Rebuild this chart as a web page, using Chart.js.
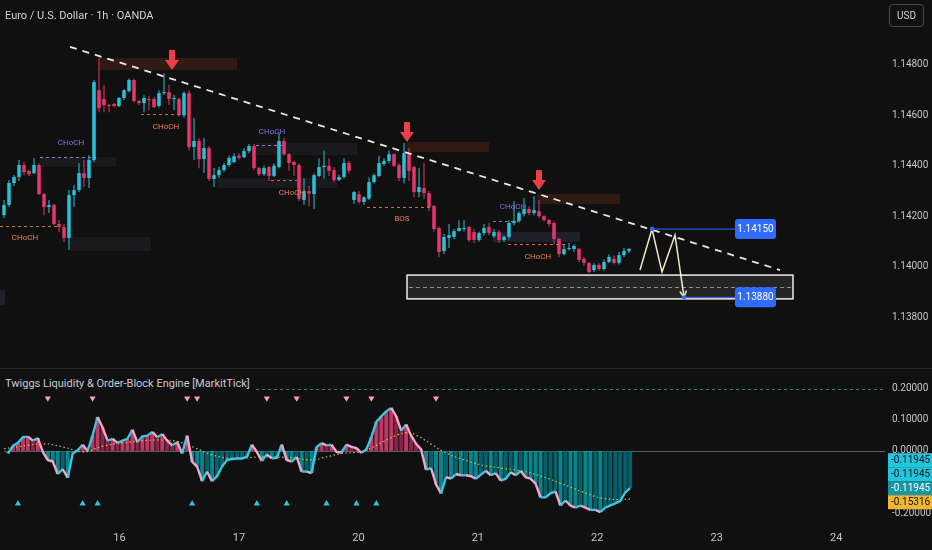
<!DOCTYPE html>
<html>
<head>
<meta charset="utf-8">
<title>EUR/USD 1h</title>
<script src="https://cdn.jsdelivr.net/npm/chart.js@4.4.1/dist/chart.umd.min.js"></script>
<style>
  html, body { margin: 0; padding: 0; background: #101010; }
  #wrap { position: relative; width: 932px; height: 550px; overflow: hidden; background: #101010; font-family: Roboto, "Noto Sans", sans-serif; }
  .pane { position: absolute; left: 0; width: 932px; }
  #pMain { top: 0; height: 368px; }
  #pInd { top: 369px; height: 181px; }
  #sep { position: absolute; left: 0; top: 368px; width: 932px; height: 1px; background: #262626; }
  #title { position: absolute; left: 5px; top: 9px; font-size: 11px; color: #d1d4dc; white-space: nowrap; }
  #usd { position: absolute; left: 889px; top: 4px; width: 33px; height: 21px; border: 1px solid #4a4a4a; border-radius: 4px; color: #d1d4dc; font-size: 10px; line-height: 21px; text-align: center; }
  #indTitle { position: absolute; left: 4px; top: 377px; font-size: 11px; color: #c9ccd4; background: #101010; padding: 0 3px 0 1px; white-space: nowrap; }
</style>
</head>
<body>
<div id="wrap">
  <div class="pane" id="pMain"><canvas id="mainChart"></canvas></div>
  <div id="sep"></div>
  <div class="pane" id="pInd"><canvas id="oscChart"></canvas></div>
  <div id="title">Euro / U.S. Dollar · 1h · OANDA</div>
  <div id="usd">USD</div>
  <div id="indTitle">Twiggs Liquidity &amp; Order-Block Engine [MarkitTick]</div>
</div>
<script>
// hourly candles (index 0 = first visible bar)
const open = [1.14205,1.14245,1.14332,1.14356,1.14403,1.14380,1.14371,1.14403,1.14288,1.14237,
  1.14245,1.14170,1.14158,1.14115,1.14284,1.14304,1.14371,1.14352,1.14423,1.14699,
  1.14664,1.14640,1.14644,1.14636,1.14668,1.14695,1.14739,1.14656,1.14648,1.14664,
  1.14664,1.14636,1.14687,1.14691,1.14664,1.14664,1.14600,1.14687,1.14474,1.14498,
  1.14427,1.14470,1.14348,1.14363,1.14383,1.14403,1.14415,1.14440,1.14434,1.14458,
  1.14478,1.14391,1.14367,1.14395,1.14360,1.14395,1.14498,1.14446,1.14415,1.14403,
  1.14265,1.14300,1.14288,1.14360,1.14395,1.14400,1.14383,1.14344,1.14356,1.14411,
  1.14265,1.14288,1.14257,1.14270,1.14336,1.14360,1.14407,1.14419,1.14446,1.14403,
  1.14352,1.14446,1.14395,1.14296,1.14312,1.14292,1.14241,1.14154,1.14063,1.14115,
  1.14119,1.14142,1.14150,1.14158,1.14138,1.14107,1.14134,1.14158,1.14122,1.14138,
  1.14107,1.14119,1.14174,1.14182,1.14209,1.14229,1.14213,1.14221,1.14201,1.14186,
  1.14174,1.14111,1.14051,1.14071,1.14071,1.14071,1.14032,1.14016,1.13988,1.14008,
  1.13992,1.14020,1.14032,1.14016,1.14047,1.14063];
const high = [1.14265,1.14344,1.14363,1.14423,1.14415,1.14385,1.14431,1.14410,1.14292,1.14265,
  1.14250,1.14186,1.14170,1.14304,1.14324,1.14411,1.14423,1.14442,1.14739,1.14826,
  1.14719,1.14644,1.14648,1.14672,1.14703,1.14745,1.14745,1.14660,1.14679,1.14675,
  1.14672,1.14699,1.14766,1.14719,1.14680,1.14670,1.14695,1.14699,1.14590,1.14510,
  1.14510,1.14478,1.14391,1.14395,1.14411,1.14440,1.14450,1.14450,1.14470,1.14486,
  1.14486,1.14395,1.14400,1.14400,1.14410,1.14533,1.14510,1.14450,1.14420,1.14410,
  1.14350,1.14320,1.14370,1.14430,1.14460,1.14430,1.14395,1.14365,1.14430,1.14420,
  1.14300,1.14300,1.14280,1.14355,1.14370,1.14440,1.14430,1.14460,1.14450,1.14410,
  1.14490,1.14470,1.14400,1.14390,1.14411,1.14300,1.14245,1.14160,1.14130,1.14170,
  1.14150,1.14185,1.14185,1.14162,1.14150,1.14140,1.14170,1.14175,1.14150,1.14146,
  1.14125,1.14185,1.14260,1.14220,1.14273,1.14240,1.14280,1.14265,1.14205,1.14190,
  1.14180,1.14115,1.14090,1.14095,1.14090,1.14075,1.14040,1.14020,1.14015,1.14015,
  1.14030,1.14050,1.14045,1.14060,1.14075,1.14075];
const low = [1.14194,1.14237,1.14320,1.14340,1.14363,1.14360,1.14367,1.14285,1.14205,1.14213,
  1.14165,1.14138,1.14099,1.14067,1.14237,1.14296,1.14316,1.14312,1.14415,1.14612,
  1.14612,1.14612,1.14630,1.14632,1.14660,1.14690,1.14650,1.14640,1.14612,1.14620,
  1.14628,1.14630,1.14680,1.14640,1.14620,1.14595,1.14590,1.14460,1.14423,1.14390,
  1.14372,1.14340,1.14316,1.14352,1.14375,1.14395,1.14410,1.14425,1.14430,1.14450,
  1.14383,1.14360,1.14360,1.14340,1.14355,1.14390,1.14440,1.14380,1.14360,1.14260,
  1.14245,1.14240,1.14230,1.14355,1.14350,1.14360,1.14335,1.14340,1.14350,1.14370,
  1.14250,1.14250,1.14245,1.14265,1.14330,1.14355,1.14400,1.14410,1.14395,1.14340,
  1.14330,1.14340,1.14276,1.14276,1.14270,1.14220,1.14140,1.14040,1.14050,1.14075,
  1.14110,1.14140,1.14140,1.14099,1.14095,1.14100,1.14125,1.14125,1.14115,1.14095,
  1.14100,1.14110,1.14165,1.14175,1.14200,1.14205,1.14205,1.14195,1.14180,1.14160,
  1.14090,1.14040,1.14045,1.14065,1.14060,1.14020,1.14005,1.13975,1.13980,1.13985,
  1.13985,1.14015,1.14010,1.14010,1.14040,1.14055];
const close = [1.14245,1.14332,1.14356,1.14403,1.14375,1.14367,1.14403,1.14288,1.14237,1.14245,
  1.14170,1.14158,1.14115,1.14284,1.14304,1.14371,1.14352,1.14423,1.14731,1.14628,
  1.14640,1.14636,1.14636,1.14668,1.14699,1.14739,1.14656,1.14648,1.14668,1.14660,
  1.14632,1.14687,1.14691,1.14664,1.14668,1.14600,1.14687,1.14474,1.14498,1.14427,
  1.14470,1.14348,1.14363,1.14383,1.14403,1.14431,1.14438,1.14432,1.14458,1.14478,
  1.14391,1.14367,1.14391,1.14360,1.14400,1.14498,1.14446,1.14411,1.14403,1.14269,
  1.14300,1.14290,1.14363,1.14395,1.14400,1.14380,1.14344,1.14356,1.14411,1.14380,
  1.14296,1.14257,1.14275,1.14336,1.14363,1.14411,1.14419,1.14446,1.14400,1.14352,
  1.14450,1.14380,1.14296,1.14316,1.14292,1.14237,1.14150,1.14059,1.14119,1.14126,
  1.14142,1.14154,1.14154,1.14107,1.14107,1.14134,1.14154,1.14134,1.14138,1.14107,
  1.14119,1.14174,1.14182,1.14213,1.14229,1.14213,1.14225,1.14201,1.14186,1.14170,
  1.14111,1.14051,1.14071,1.14075,1.14083,1.14028,1.14016,1.13980,1.14008,1.13992,
  1.14020,1.14040,1.14016,1.14047,1.14063,1.14071];

// oscillator (one value per candle) and its dotted signal line (sampled)
const osc = [-0.008,0.016,0.026,0.044,0.046,0.033,0.041,-0.003,-0.029,-0.034,
  -0.074,-0.058,-0.086,-0.008,0.002,0.020,0.000,0.049,0.109,0.075,
  0.033,0.039,0.026,0.033,0.039,0.068,0.028,0.047,0.049,0.061,
  0.044,0.054,0.033,0.018,0.028,-0.008,0.049,-0.034,-0.050,-0.097,
  -0.066,-0.097,-0.081,-0.050,-0.029,-0.026,-0.024,-0.024,-0.019,0.020,
  -0.003,-0.032,-0.011,-0.024,-0.022,0.020,-0.029,-0.034,-0.019,-0.066,
  -0.066,-0.071,0.012,0.025,0.018,0.020,-0.003,-0.005,0.020,0.013,
  0.009,-0.006,0.005,0.044,0.093,0.111,0.127,0.138,0.111,0.065,
  0.085,0.049,0.023,0.005,-0.060,-0.055,-0.107,-0.136,-0.084,-0.089,
  -0.074,-0.078,-0.078,-0.081,-0.089,-0.076,-0.064,-0.078,-0.071,-0.095,
  -0.089,-0.068,-0.078,-0.064,-0.084,-0.089,-0.105,-0.149,-0.149,-0.136,
  -0.130,-0.175,-0.159,-0.175,-0.182,-0.175,-0.182,-0.189,-0.189,-0.196,
  -0.182,-0.175,-0.168,-0.161,-0.133,-0.119];
const sigX = [-0.8,3.2,7.2,11.2,15.2,19.2,23.2,27.2,31.2,34.2,37.2,41.2,45.2,51.2,57.2,61.2,63.2,67.2,
  71.2,75.2,78.2,80.2,82.2,85.2,88.2,91.2,95.2,99.2,103.2,107.2,111.2,115.2,119.2,123.2,125.2];
const sigY = [0.007,0.016,0.023,0.0125,-0.003,0.016,0.026,0.033,0.035,0.030,0.0125,-0.0135,-0.024,-0.019,-0.022,-0.029,-0.022,-0.008,
  -0.001,0.028,0.051,0.059,0.049,0.020,-0.008,-0.026,-0.045,-0.055,-0.064,-0.081,-0.105,-0.130,-0.151,-0.156,-0.153];
const bearMarks = [8, 17, 36, 38, 52, 58, 68, 73, 86];
const bullMarks = [2, 15, 18, 37, 50, 56, 64, 70, 74];
const markRow = 0.169;
const lastTags = [-0.11945, -0.11945, -0.11945, -0.15316];

// axes
const dayLabels = ['16', '17', '20', '21', '22', '23', '24'];
const dayAt = [22.4, 46.4, 70.4, 94.4, 118.4, 142.4, 166.4];
const priceTicks = [1.138, 1.140, 1.142, 1.144, 1.146, 1.148];
const oscTicks = [0.2, 0.1, 0, -0.2];

// drawings on the price pane (bar index / price)
const trendX = [13.2, 155.2];
const trendY = [1.14870, 1.13988];
const pathX = [127.2, 129.6, 131.6, 134.2, 136.0];
const pathY = [1.13988, 1.14150, 1.13980, 1.14126, 1.13881];
const targetTags = [{ from: 129.6, price: 1.14150 }, { from: 136.0, price: 1.13880 }];
const tagAt = 146.2;
const arrows = [[33.6, 1.14779], [80.6, 1.14494], [107, 1.14304]];
const targetBox = { from: 80.6, to: 157.8, top: 1.13968, bottom: 1.13874, mid: 1.13921 };
const zones = [
  { from: 19.2, to: 46.6, top: 1.14826, bottom: 1.14779, kind: 'supply' },
  { from: 80.6, to: 97.0, top: 1.14494, bottom: 1.14455, kind: 'supply' },
  { from: 106.6, to: 123.2, top: 1.14289, bottom: 1.14249, kind: 'supply' },
  { from: 7.2, to: 22.4, top: 1.14435, bottom: 1.14395, kind: 'block' },
  { from: 13.2, to: 29.4, top: 1.14119, bottom: 1.14063, kind: 'block' },
  { from: 50.2, to: 70.6, top: 1.14490, bottom: 1.14442, kind: 'block' },
  { from: 42.6, to: 66.6, top: 1.14352, bottom: 1.14312, kind: 'block' },
  { from: 97.8, to: 115.2, top: 1.14138, bottom: 1.14099, kind: 'demand' },
  { from: -0.8, to: 0.2, top: 1.13909, bottom: 1.13850, kind: 'demand' }
];
const levels = [
  { from: -0.8, to: 10.6, price: 1.14162, text: 'CHoCH', at: 4.2, textPrice: 1.14115, kind: 'bear' },
  { from: 7.2, to: 18.4, price: 1.14435, text: 'CHoCH', at: 13.4, textPrice: 1.14490, kind: 'bull' },
  { from: 27.4, to: 35.6, price: 1.14605, text: 'CHoCH', at: 32.4, textPrice: 1.14553, kind: 'bear' },
  { from: 50.4, to: 55.6, price: 1.14482, text: 'CHoCH', at: 53.6, textPrice: 1.14533, kind: 'bull' },
  { from: 53.4, to: 58.6, price: 1.14344, text: 'CHoCH', at: 57.6, textPrice: 1.14292, kind: 'bear' },
  { from: 72.6, to: 85.6, price: 1.14237, text: 'BOS', at: 79.6, textPrice: 1.14190, kind: 'bear' },
  { from: 97.8, to: 102.8, price: 1.14182, text: 'CHoCH', at: 101.8, textPrice: 1.14237, kind: 'bull' },
  { from: 100.8, to: 112.8, price: 1.14091, text: 'CHoCH', at: 106.8, textPrice: 1.14040, kind: 'bear' }
];

const X_MIN = -0.8, X_MAX = 176.2;
const UP = '#28c2d8', DOWN = '#e8356c';
const TXT = '#c3c6ce';
const zoneFill = { supply: 'rgba(105,42,28,0.38)', block: 'rgba(70,72,90,0.2)', demand: 'rgba(70,82,125,0.25)' };
const levelColor = { bear: 'rgba(230,115,70,0.9)', bull: 'rgba(150,140,225,0.85)' };
const labelColor = { bear: '#e8804f', bull: '#7f72ee' };

Chart.defaults.font.family = 'Roboto, "Noto Sans", sans-serif';

const idx = close.map((_, i) => i);
const candleColor = idx.map(i => close[i] >= open[i] ? UP : DOWN);

function fixedAxis(size, horizontal) {
  return function (scale) {
    if (horizontal) scale.height = size; else scale.width = size;
    scale.paddingTop = 0; scale.paddingBottom = 0;
    scale.paddingLeft = 0; scale.paddingRight = 0;
  };
}

function tagBox(ctx, x, cy, w, h, fill, color, text) {
  ctx.fillStyle = fill;
  ctx.beginPath();
  ctx.roundRect(x, cy - h / 2, w, h, 3);
  ctx.fill();
  ctx.fillStyle = color;
  ctx.fillText(text, x + w / 2, cy + 0.5);
}

// zones, structure levels, arrows and price tags
const smcLayer = {
  id: 'smcLayer',
  beforeDatasetsDraw(chart) {
    const { ctx, scales: { x, y } } = chart;
    ctx.save();
    zones.forEach(z => {
      const x0 = x.getPixelForValue(z.from), x1 = x.getPixelForValue(z.to);
      const y0 = y.getPixelForValue(z.top), y1 = y.getPixelForValue(z.bottom);
      ctx.fillStyle = zoneFill[z.kind];
      ctx.fillRect(x0, y0, x1 - x0, y1 - y0);
    });
    ctx.restore();
  },
  afterDatasetsDraw(chart) {
    const { ctx, scales: { x, y } } = chart;
    ctx.save();

    // structure breaks
    ctx.font = '8px Roboto, sans-serif';
    ctx.textAlign = 'center';
    ctx.textBaseline = 'middle';
    levels.forEach(l => {
      const py = Math.round(y.getPixelForValue(l.price)) + 0.5;
      ctx.strokeStyle = levelColor[l.kind];
      ctx.lineWidth = 1;
      ctx.setLineDash([3, 3]);
      ctx.beginPath();
      ctx.moveTo(x.getPixelForValue(l.from), py);
      ctx.lineTo(x.getPixelForValue(l.to), py);
      ctx.stroke();
      ctx.fillStyle = labelColor[l.kind];
      ctx.fillText(l.text, x.getPixelForValue(l.at), y.getPixelForValue(l.textPrice));
    });

    // target box
    const bx0 = x.getPixelForValue(targetBox.from), bx1 = x.getPixelForValue(targetBox.to);
    const by0 = y.getPixelForValue(targetBox.top), by1 = y.getPixelForValue(targetBox.bottom);
    ctx.setLineDash([]);
    ctx.fillStyle = 'rgba(255,255,255,0.09)';
    ctx.fillRect(bx0, by0, bx1 - bx0, by1 - by0);
    ctx.strokeStyle = 'rgba(255,255,255,0.92)';
    ctx.lineWidth = 1.5;
    ctx.strokeRect(bx0, by0, bx1 - bx0, by1 - by0);
    const my = Math.round(y.getPixelForValue(targetBox.mid)) + 0.5;
    ctx.strokeStyle = 'rgba(255,255,255,0.5)';
    ctx.lineWidth = 1;
    ctx.setLineDash([4, 3]);
    ctx.beginPath();
    ctx.moveTo(bx0 + 2, my);
    ctx.lineTo(bx1 - 2, my);
    ctx.stroke();
    ctx.setLineDash([]);

    // red down arrows
    ctx.fillStyle = '#e8404a';
    arrows.forEach(([ax, ap]) => {
      const px = x.getPixelForValue(ax), py = y.getPixelForValue(ap);
      ctx.fillRect(px - 3, py - 20, 6, 11);
      ctx.beginPath();
      ctx.moveTo(px - 7, py - 10);
      ctx.lineTo(px + 7, py - 10);
      ctx.lineTo(px, py);
      ctx.closePath();
      ctx.fill();
    });

    // arrow head on the projected path
    const n = pathX.length;
    const ex = x.getPixelForValue(pathX[n - 1]), ey = y.getPixelForValue(pathY[n - 1]);
    const sx = x.getPixelForValue(pathX[n - 2]), sy = y.getPixelForValue(pathY[n - 2]);
    const ang = Math.atan2(ey - sy, ex - sx);
    ctx.strokeStyle = '#efeac4';
    ctx.lineWidth = 1.5;
    ctx.beginPath();
    ctx.moveTo(ex - 7 * Math.cos(ang - 0.5), ey - 7 * Math.sin(ang - 0.5));
    ctx.lineTo(ex, ey);
    ctx.lineTo(ex - 7 * Math.cos(ang + 0.5), ey - 7 * Math.sin(ang + 0.5));
    ctx.stroke();

    // blue target tags
    const tx = x.getPixelForValue(tagAt);
    ctx.font = '10px Roboto, sans-serif';
    targetTags.forEach(t => {
      const fx = x.getPixelForValue(t.from), py = y.getPixelForValue(t.price);
      ctx.strokeStyle = '#2f6bff';
      ctx.lineWidth = 1;
      ctx.beginPath();
      ctx.moveTo(fx, py);
      ctx.lineTo(tx, py);
      ctx.stroke();
      ctx.fillStyle = '#2f6bff';
      ctx.beginPath();
      ctx.arc(fx, py, 2.2, 0, Math.PI * 2);
      ctx.fill();
      tagBox(ctx, tx, py, 41, 20, '#2f6bff', '#ffffff', t.price.toFixed(5));
    });
    ctx.restore();
  }
};

new Chart(document.getElementById('mainChart'), {
  type: 'bar',
  data: {
    datasets: [
      {
        type: 'line', data: trendX.map((v, i) => ({ x: v, y: trendY[i] })),
        borderColor: 'rgba(255,255,255,0.9)', borderWidth: 1.8, borderDash: [7, 6], pointRadius: 0, order: 1
      },
      {
        type: 'line', data: pathX.map((v, i) => ({ x: v, y: pathY[i] })),
        borderColor: '#efeac4', borderWidth: 1.5, pointRadius: 0, order: 1
      },
      {
        data: idx.map(i => ({ x: i, y: [low[i], high[i]] })), backgroundColor: candleColor,
        grouped: false, categoryPercentage: 1, barPercentage: 0.2, order: 4
      },
      {
        data: idx.map(i => ({ x: i, y: [open[i], close[i]] })), backgroundColor: candleColor,
        grouped: false, categoryPercentage: 1, barPercentage: 0.7, minBarLength: 1, order: 3
      }
    ]
  },
  options: {
    animation: false,
    responsive: true,
    maintainAspectRatio: false,
    layout: { padding: 0 },
    plugins: { legend: { display: false }, tooltip: { enabled: false } },
    scales: {
      x: { type: 'linear', min: X_MIN, max: X_MAX, offset: false, display: false },
      y: {
        position: 'right', min: 1.136008, max: 1.150553,
        grid: { display: false, drawTicks: false }, border: { display: false },
        afterBuildTicks: s => { s.ticks = priceTicks.map(v => ({ value: v })); },
        afterFit: fixedAxis(47, false),
        ticks: { padding: 7, color: TXT, font: { size: 10 }, callback: v => Number(v).toFixed(5) }
      }
    }
  },
  plugins: [smcLayer]
});

// indicator pane
const histColor = osc.map((v, i) => {
  const rising = i === 0 || v >= osc[i - 1];
  if (v >= 0) return rising ? 'rgba(236,64,122,0.8)' : 'rgba(165,42,92,0.8)';
  return rising ? 'rgba(0,118,128,0.8)' : 'rgba(0,168,178,0.78)';
});

const oscLayer = {
  id: 'oscLayer',
  beforeDatasetsDraw(chart) {
    const { ctx, chartArea, scales: { y } } = chart;
    ctx.save();
    const zy = Math.round(y.getPixelForValue(0)) + 0.5;
    ctx.strokeStyle = '#5a5c63';
    ctx.lineWidth = 1;
    ctx.beginPath();
    ctx.moveTo(chartArea.left, zy);
    ctx.lineTo(chartArea.right, zy);
    ctx.stroke();
    const ty = Math.round(y.getPixelForValue(oscTicks[0])) + 0.5;
    ctx.strokeStyle = 'rgba(38,166,154,0.75)';
    ctx.setLineDash([3, 3]);
    ctx.beginPath();
    ctx.moveTo(chartArea.left, ty);
    ctx.lineTo(chartArea.right, ty);
    ctx.stroke();
    ctx.restore();
  },
  afterDraw(chart) {
    const { ctx, chartArea, scales: { y } } = chart;
    const h = 14, x0 = chartArea.right + 3, w = chart.width - x0;
    const base = y.getPixelForValue(lastTags[2]);
    const centres = [base - 2 * h, base - h, base, Math.max(y.getPixelForValue(lastTags[3]), base + h)];
    const fills = ['#22c5da', '#22c5da', '#1597a6', '#f2b632'];
    const inks = ['#101318', '#101318', '#ffffff', '#101318'];
    ctx.save();
    ctx.font = '10px Roboto, sans-serif';
    ctx.textBaseline = 'middle';
    ctx.textAlign = 'left';
    lastTags.forEach((v, i) => {
      ctx.fillStyle = fills[i];
      ctx.fillRect(x0, centres[i] - h / 2, w, h);
      ctx.fillStyle = inks[i];
      ctx.fillText(v.toFixed(5), x0 + 3, centres[i] + 0.5);
    });
    ctx.restore();
  }
};

new Chart(document.getElementById('oscChart'), {
  type: 'bar',
  data: {
    datasets: [
      {
        type: 'scatter', data: bearMarks.map(i => ({ x: i, y: markRow })),
        pointStyle: 'triangle', rotation: 180, pointRadius: 3.6, backgroundColor: '#f6a0c2', borderWidth: 0, order: 0
      },
      {
        type: 'scatter', data: bullMarks.map(i => ({ x: i, y: -markRow })),
        pointStyle: 'triangle', pointRadius: 3.6, backgroundColor: '#29c6dc', borderWidth: 0, order: 0
      },
      {
        type: 'line', data: osc.map((v, i) => ({ x: i, y: v })),
        borderColor: '#3ec6e0', borderWidth: 2.4, pointRadius: 0,
        segment: { borderColor: c => c.p1.parsed.y >= c.p0.parsed.y ? '#3ec6e0' : '#f4a6c8' },
        order: 1
      },
      {
        type: 'line', data: sigX.map((v, i) => ({ x: v, y: sigY[i] })),
        borderColor: 'rgba(222,200,76,0.95)', borderWidth: 1.2, borderDash: [1.5, 2.5],
        tension: 0.4, pointRadius: 0, order: 2
      },
      {
        data: osc.map((v, i) => ({ x: i, y: v })), backgroundColor: histColor,
        grouped: false, categoryPercentage: 1, barPercentage: 0.8, order: 3
      }
    ]
  },
  options: {
    animation: false,
    responsive: true,
    maintainAspectRatio: false,
    layout: { padding: 0 },
    plugins: { legend: { display: false }, tooltip: { enabled: false } },
    scales: {
      x: {
        type: 'linear', min: X_MIN, max: X_MAX, offset: false,
        grid: { display: false, drawTicks: false }, border: { display: false },
        afterBuildTicks: s => { s.ticks = dayAt.map(v => ({ value: v })); },
        afterFit: fixedAxis(25, true),
        ticks: { autoSkip: false, maxRotation: 0, padding: 7, color: TXT, font: { size: 11 }, callback: (v, i) => dayLabels[i] }
      },
      y: {
        position: 'right', min: -0.2375, max: 0.25,
        grid: { display: false, drawTicks: false }, border: { display: false },
        afterBuildTicks: s => { s.ticks = oscTicks.map(v => ({ value: v })); },
        afterFit: fixedAxis(47, false),
        ticks: { padding: 7, color: TXT, font: { size: 10 }, callback: v => Number(v).toFixed(5) }
      }
    }
  },
  plugins: [oscLayer]
});
</script>
</body>
</html>
